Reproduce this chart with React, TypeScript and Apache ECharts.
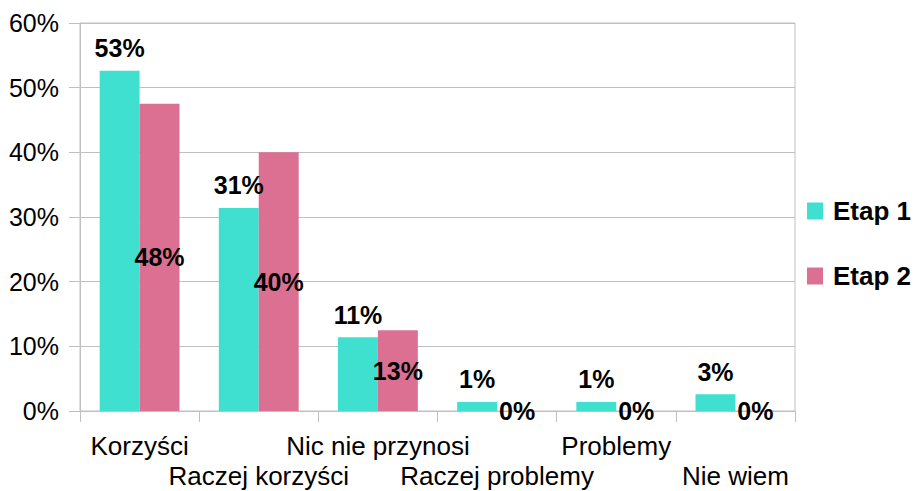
import React, { useEffect, useRef } from "react";
import * as echarts from "echarts";

const categories = ["Korzyści", "Raczej korzyści", "Nic nie przynosi", "Raczej problemy", "Problemy", "Nie wiem"];
const etap1 = [52.6, 31.4, 11.4, 1.4, 1.4, 2.6];
const etap2 = [47.5, 40.0, 12.5, 0, 0, 0];
const seriesNames = ["Etap 1", "Etap 2"];
const yTicks = [0, 10, 20, 30, 40, 50, 60];

const FONT = "'Liberation Sans', Arial, sans-serif";

export default function App() {
  const ref = useRef<HTMLDivElement>(null);
  useEffect(() => {
    if (!ref.current) return;
    const chart = echarts.init(ref.current, null, { renderer: "svg" });
    const pct = (p: any) => Math.round(p.value) + "%";
    chart.setOption({
      animation: false,
      textStyle: { fontFamily: FONT },
      grid: {
        left: 80,
        top: 23,
        width: 715,
        height: 388,
        show: true,
        borderColor: "#c0c0c0",
        borderWidth: 1,
        backgroundColor: "transparent",
      },
      legend: {
        orient: "vertical",
        left: 807,
        top: 198,
        padding: 0,
        itemWidth: 16,
        itemHeight: 17,
        itemGap: 39,
        icon: "rect",
        data: seriesNames,
        textStyle: {
          fontFamily: FONT,
          fontSize: 26,
          fontWeight: "bold",
          color: "#000",
          padding: [0, 0, 0, 5],
        },
      },
      xAxis: {
        type: "category",
        data: categories,
        axisLine: { lineStyle: { color: "#c0c0c0", width: 1 } },
        axisTick: { show: true, length: 11, alignWithLabel: false, lineStyle: { color: "#c0c0c0" } },
        axisLabel: {
          interval: 0,
          margin: 20,
          fontFamily: FONT,
          fontSize: 26,
          color: "#000",
          lineHeight: 30,
          formatter: (v: string, i: number) => (i % 2 === 0 ? v + "\n " : " \n" + v),
        },
      },
      yAxis: {
        type: "value",
        min: yTicks[0],
        max: yTicks[yTicks.length - 1],
        interval: 10,
        axisLine: { show: true, lineStyle: { color: "#c0c0c0", width: 1 } },
        axisTick: { show: true, length: 11, lineStyle: { color: "#c0c0c0" } },
        splitLine: { show: true, lineStyle: { color: "#c0c0c0", width: 1 } },
        axisLabel: {
          margin: 21,
          fontFamily: FONT,
          fontSize: 25,
          color: "#000",
          formatter: (v: number) => v + "%",
        },
      },
      series: [
        {
          name: seriesNames[0],
          type: "bar",
          data: etap1,
          barGap: "0%",
          barCategoryGap: "33%",
          itemStyle: { color: "#40E0D0" },
          label: {
            show: true,
            position: "top",
            distance: 10,
            fontFamily: FONT,
            fontSize: 25,
            fontWeight: "bold",
            color: "#000",
            formatter: pct,
          },
        },
        {
          name: seriesNames[1],
          type: "bar",
          data: etap2,
          barGap: "0%",
          barCategoryGap: "33%",
          itemStyle: { color: "#DB7093" },
          label: {
            show: true,
            position: "inside",
            fontFamily: FONT,
            fontSize: 25,
            fontWeight: "bold",
            color: "#000",
            formatter: pct,
          },
        },
      ],
    });
    return () => chart.dispose();
  }, []);
  return <div ref={ref} style={{ width: 919, height: 491, position: "absolute", left: 0, top: 0 }} />;
}
